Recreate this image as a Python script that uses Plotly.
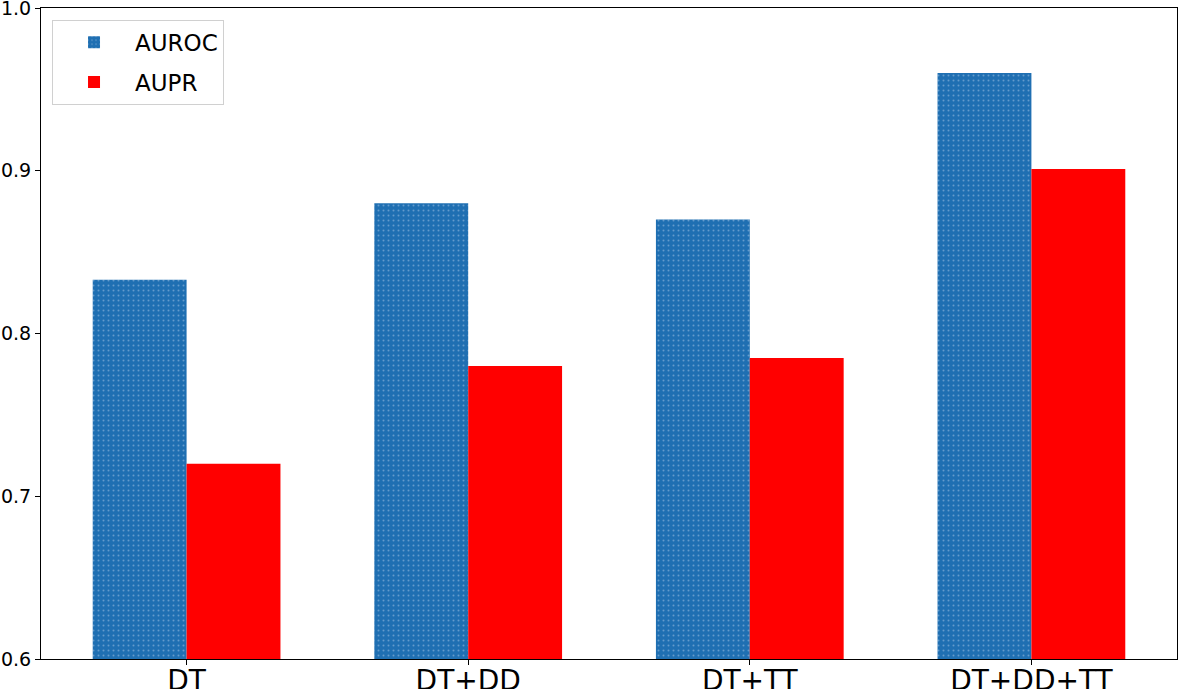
import plotly.graph_objects as go

categories = ["DT", "DT+DD", "DT+TT", "DT+DD+TT"]
auroc = [0.833, 0.880, 0.870, 0.960]
aupr = [0.720, 0.780, 0.785, 0.901]
y_ticks = [0.6, 0.7, 0.8, 0.9, 1.0]

fig = go.Figure()
fig.add_trace(go.Bar(
    x=categories, y=auroc, name="AUROC", offset=-1/3, width=1/3,
    legendgroup="a",
    marker=dict(color="#1f6fb2", line=dict(width=0),
                pattern=dict(shape=".", fgcolor="#a9c8e6", bgcolor="#1f6fb2",
                             size=5, solidity=0.12, fillmode="overlay")),
))
fig.add_trace(go.Bar(
    x=categories, y=aupr, name="AUPR", offset=0, width=1/3,
    legendgroup="b",
    marker=dict(color="#ff0000", line=dict(width=0)),
))

fig.update_layout(
    width=1182, height=689,
    margin=dict(l=41, r=5, t=8, b=30, autoexpand=False),
    paper_bgcolor="white", plot_bgcolor="white",
    font=dict(family="DejaVu Sans", color="black"),
    barmode="group",
    showlegend=True,
    legend=dict(x=0.0097, y=0.982, xanchor="left", yanchor="top",
                bgcolor="white", bordercolor="#d0d0d0", borderwidth=1,
                font=dict(size=23), itemwidth=72, tracegroupgap=7,
                traceorder="grouped"),
    xaxis=dict(range=[-0.517, 3.517], showline=True, linecolor="black", linewidth=1.2,
               mirror=True, ticks="outside", ticklen=5, tickcolor="black",
               tickfont=dict(size=28), showgrid=False, zeroline=False,
               automargin=False, ticklabelstandoff=-9),
    yaxis=dict(range=[0.6, 1.0], tickvals=y_ticks, tickformat=".1f",
               showline=True, linecolor="black", linewidth=1.2, mirror=True,
               ticks="outside", ticklen=5, tickcolor="black",
               tickfont=dict(size=19), showgrid=False, zeroline=False,
               automargin=False, ticklabeloverflow="allow"),
)

fig.write_html(
    "out.html",
    config={"displayModeBar": False},
    post_script="document.body.style.margin='0';document.body.style.overflow='hidden';",
)
